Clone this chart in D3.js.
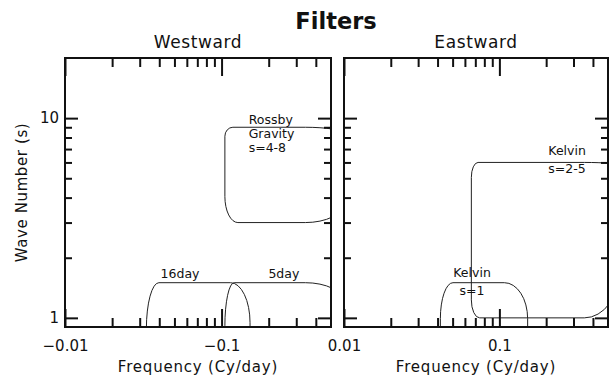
<!DOCTYPE html>
<html>
<head>
<meta charset="utf-8">
<script src="https://cdn.jsdelivr.net/npm/d3@7"></script>
<style>
  body { margin: 0; background: #fff; }
  svg { display: block; font-family: "DejaVu Sans", sans-serif; }
</style>
</head>
<body>
<svg id="chart" width="610" height="379"></svg>
<script>
// ---- axis extents and ticks ----
const freqExtent = [0.01, 0.5];          // |frequency|, Cy/day
const waveExtent = [0.9, 20];            // zonal wavenumber s
const freqMajor = [0.01, 0.1];
const freqMinor = [0.02, 0.03, 0.04, 0.05, 0.06, 0.07, 0.08, 0.09, 0.2, 0.3, 0.4];
const waveMajor = [1, 10];
const waveMinor = [2, 3, 4, 5, 6, 7, 8, 9];
const freqLabelsWest = ["\u22120.01", "\u22120.1"];
const freqLabelsEast = ["0.01", "0.1"];
const waveLabels = ["1", "10"];

// ---- filter passbands (signed frequency, wavenumber) ----
const filterNames  = ["Rossby Gravity", "16day", "5day", "Kelvin s=1", "Kelvin s=2-5"];
const filterFreqLo = [-0.105, -0.0331, -0.105, 0.0417, 0.066];
const filterFreqHi = [-0.6,   -0.152,  -0.6,   0.152,  0.6];
const filterWaveLo = [3,      0.5,     0.5,    0.5,    1];
const filterWaveHi = [9,      1.5,     1.5,    1.5,    6];

// ---- annotation text anchored at (frequency, wavenumber) ----
const noteTexts = ["Rossby", "Gravity", "s=4-8", "16day", "5day", "Kelvin", "s=2-5", "Kelvin", "s=1"];
const noteFreq  = [-0.149, -0.149, -0.149, -0.0543, -0.25, 0.2065, 0.2065, 0.0667, 0.0667];
const noteWave  = [9.3, 7.95, 6.8, 1.58, 1.58, 6.51, 5.31, 1.607, 1.302];

// ---- presentation ----
const cornerStyle = {
  "Rossby Gravity": { tl: [8, 9],      tr: [38, 6],  br: [38, 19], bl: [13, 26] },
  "16day":          { tl: [12.5, 46],  tr: [19.5, 40], br: [4, 4], bl: [4, 4] },
  "5day":           { tl: [9.3, 43],   tr: [38, 19], br: [4, 4],   bl: [4, 4] },
  "Kelvin s=1":     { tl: [12.6, 36],  tr: [23.3, 36], br: [4, 4], bl: [4, 4] },
  "Kelvin s=2-5":   { tl: [6.7, 15],   tr: [36, 3],  br: [36, 50], bl: [8.3, 18] }
};
const noteAnchor = ["start", "start", "start", "middle", "middle", "start", "start", "middle", "middle"];

const plotTop = 58, plotBottom = 327;
const panels = [
  { id: "west", title: "Westward", left: 65, right: 331, sign: -1, labels: freqLabelsWest },
  { id: "east", title: "Eastward", left: 344, right: 608, sign: 1, labels: freqLabelsEast }
];

const svg = d3.select("#chart");
const y = d3.scaleLog().domain(waveExtent).range([plotBottom, plotTop]);

svg.append("text")
  .attr("x", 336).attr("y", 29)
  .attr("text-anchor", "middle")
  .attr("font-size", 22.5).attr("font-weight", "bold")
  .attr("fill", "#111")
  .text("Filters");

svg.append("text")
  .attr("transform", `translate(26.5,${(plotTop + plotBottom) / 2}) rotate(-90)`)
  .attr("text-anchor", "middle")
  .attr("font-size", 15).attr("letter-spacing", 0.6)
  .attr("fill", "#111")
  .text("Wave Number (s)");

function roundedBox(x0, x1, yt, yb, c) {
  return `M${x0 + c.tl[0]},${yt}` +
    `H${x1 - c.tr[0]}A${c.tr[0]},${c.tr[1]} 0 0 1 ${x1},${yt + c.tr[1]}` +
    `V${yb - c.br[1]}A${c.br[0]},${c.br[1]} 0 0 1 ${x1 - c.br[0]},${yb}` +
    `H${x0 + c.bl[0]}A${c.bl[0]},${c.bl[1]} 0 0 1 ${x0},${yb - c.bl[1]}` +
    `V${yt + c.tl[1]}A${c.tl[0]},${c.tl[1]} 0 0 1 ${x0 + c.tl[0]},${yt}Z`;
}

function styleAxis(g) {
  g.select(".domain").remove();
  g.attr("font-family", null).attr("font-size", 15);
  g.selectAll(".tick line").attr("stroke", "#111").attr("stroke-width", 2);
  g.selectAll(".tick text").attr("fill", "#111");
}

panels.forEach(p => {
  const sgn = p.sign;
  const x = d3.scaleLog()
    .domain(freqExtent.map(v => v * sgn))
    .range([p.left, p.right]);
  const gP = svg.append("g");

  gP.append("clipPath").attr("id", "clip-" + p.id)
    .append("rect")
    .attr("x", p.left).attr("y", plotTop)
    .attr("width", p.right - p.left).attr("height", plotBottom - plotTop);

  // filter outlines
  const idx = filterNames.map((n, i) => i).filter(i => Math.sign(filterFreqLo[i]) === sgn);
  gP.append("g").attr("clip-path", `url(#clip-${p.id})`)
    .selectAll("path").data(idx).join("path")
    .attr("d", i => {
      const xa = x(filterFreqLo[i]), xb = x(filterFreqHi[i]);
      return roundedBox(Math.min(xa, xb), Math.max(xa, xb),
        y(filterWaveHi[i]), y(filterWaveLo[i]), cornerStyle[filterNames[i]]);
    })
    .attr("fill", "none").attr("stroke", "#222").attr("stroke-width", 1);

  // annotations
  const nIdx = noteTexts.map((t, i) => i).filter(i => Math.sign(noteFreq[i]) === sgn);
  gP.append("g").selectAll("text").data(nIdx).join("text")
    .attr("x", i => x(noteFreq[i])).attr("y", i => y(noteWave[i]))
    .attr("text-anchor", i => noteAnchor[i])
    .attr("font-size", 12.5).attr("fill", "#111")
    .text(i => noteTexts[i]);

  // frame
  gP.append("rect")
    .attr("x", p.left).attr("y", plotTop)
    .attr("width", p.right - p.left).attr("height", plotBottom - plotTop)
    .attr("fill", "none").attr("stroke", "#111").attr("stroke-width", 2);

  const fMaj = freqMajor.map(v => v * sgn), fMin = freqMinor.map(v => v * sgn);

  gP.append("g").attr("transform", `translate(0,${plotBottom})`)
    .call(d3.axisBottom(x).tickValues(fMaj).tickSizeInner(-18).tickSizeOuter(0)
      .tickPadding(13).tickFormat((d, i) => p.labels[i]))
    .call(styleAxis);
  gP.append("g").attr("transform", `translate(0,${plotBottom})`)
    .call(d3.axisBottom(x).tickValues(fMin).tickSizeInner(-9).tickSizeOuter(0).tickFormat(""))
    .call(styleAxis);
  gP.append("g").attr("transform", `translate(0,${plotTop})`)
    .call(d3.axisTop(x).tickValues(fMaj).tickSizeInner(-18).tickSizeOuter(0).tickFormat(""))
    .call(styleAxis);
  gP.append("g").attr("transform", `translate(0,${plotTop})`)
    .call(d3.axisTop(x).tickValues(fMin).tickSizeInner(-9).tickSizeOuter(0).tickFormat(""))
    .call(styleAxis);

  gP.append("g").attr("transform", `translate(${p.left},0)`)
    .call(d3.axisLeft(y).tickValues(waveMajor).tickSizeInner(-13).tickSizeOuter(0)
      .tickPadding(6).tickFormat((d, i) => sgn < 0 ? waveLabels[i] : ""))
    .call(styleAxis);
  gP.append("g").attr("transform", `translate(${p.left},0)`)
    .call(d3.axisLeft(y).tickValues(waveMinor).tickSizeInner(-7).tickSizeOuter(0).tickFormat(""))
    .call(styleAxis);
  gP.append("g").attr("transform", `translate(${p.right},0)`)
    .call(d3.axisRight(y).tickValues(waveMajor).tickSizeInner(-13).tickSizeOuter(0).tickFormat(""))
    .call(styleAxis);
  gP.append("g").attr("transform", `translate(${p.right},0)`)
    .call(d3.axisRight(y).tickValues(waveMinor).tickSizeInner(-7).tickSizeOuter(0).tickFormat(""))
    .call(styleAxis);

  // headings
  const cx = (p.left + p.right) / 2;
  gP.append("text")
    .attr("x", cx).attr("y", 48.3)
    .attr("text-anchor", "middle")
    .attr("font-size", 17).attr("letter-spacing", 0.6).attr("fill", "#111")
    .text(p.title);
  gP.append("text")
    .attr("x", cx).attr("y", 372)
    .attr("text-anchor", "middle")
    .attr("font-size", 15).attr("letter-spacing", 0.8).attr("fill", "#111")
    .text("Frequency (Cy/day)");
});
</script>
</body>
</html>
